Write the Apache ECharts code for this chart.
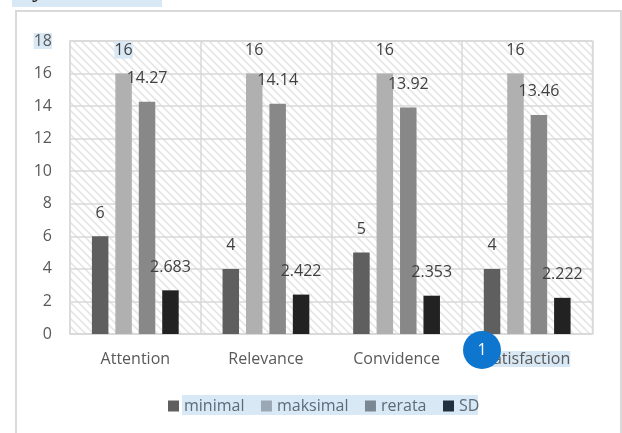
<!DOCTYPE html>
<html>
<head>
<meta charset="utf-8">
<style>
  html, body { margin: 0; padding: 0; background: #fff; }
  #chart { width: 622px; height: 433px; }
</style>
<script src="https://cdn.jsdelivr.net/npm/echarts@6/dist/echarts.min.js"></script>
</head>
<body>
<div id="chart"></div>
<script>
var categories = ["Attention", "Relevance", "Convidence", "Satisfaction"];
var minimal = [6, 4, 5, 4];
var maksimal = [16, 16, 16, 16];
var rerata = [14.27, 14.14, 13.92, 13.46];
var sd = [2.683, 2.422, 2.353, 2.222];

var FONT = "Open Sans";
var TEXT = "#595959";
var LABEL = "#404040";
var HILITE = "#d9e8f5";
var LINE = "#d9d9d9";

// diagonal hatch tile for the plot background
function hatchTile() {
  var size = 8;
  var c = document.createElement("canvas");
  c.width = size;
  c.height = size;
  var ctx = c.getContext("2d");
  ctx.fillStyle = "#ffffff";
  ctx.fillRect(0, 0, size, size);
  ctx.strokeStyle = "#e6e6e6";
  ctx.lineWidth = 1.6;
  ctx.beginPath();
  ctx.moveTo(-2, -2);
  ctx.lineTo(size + 2, size + 2);
  ctx.moveTo(-2, size - 2);
  ctx.lineTo(2, size + 2);
  ctx.moveTo(size - 2, -2);
  ctx.lineTo(size + 2, 2);
  ctx.stroke();
  return c;
}

function barSeries(name, values, color) {
  return {
    name: name,
    type: "bar",
    data: values,
    barWidth: 16.5,
    barGap: "42%",
    itemStyle: { color: color },
    label: {
      show: true,
      position: "top",
      distance: 15,
      color: LABEL,
      fontFamily: FONT,
      fontSize: 16,
    },
  };
}

var series = [
  barSeries("minimal", minimal, "#5f5f5f"),
  barSeries("maksimal", maksimal, "#b0b0b0"),
  barSeries("rerata", rerata, "#888888"),
  barSeries("SD", sd, "#222222"),
];

// the first "16" is selected in the source picture
series[1].data = maksimal.map(function (v, i) {
  if (i != 0) return v;
  return { value: v, label: { backgroundColor: HILITE, padding: [1, 0, 0, 0] } };
});

var myChart = echarts.init(document.getElementById("chart"), null, { renderer: "canvas" });
myChart.setOption({
  animation: false,
  backgroundColor: "#ffffff",
  grid: {
    left: 70,
    right: 29.5,
    top: 41,
    bottom: 99,
    show: true,
    backgroundColor: { image: hatchTile(), repeat: "repeat" },
    borderColor: LINE,
    borderWidth: 1.5,
  },
  legend: {
    left: 163,
    top: 393,
    itemWidth: 11,
    itemHeight: 11,
    itemGap: 16.5,
    z: 4,
    textStyle: { fontFamily: FONT, fontSize: 16, color: "#5b6b7a" },
    data: [
      { name: "minimal", icon: "rect", itemStyle: { color: "#5f5f5f" } },
      { name: "maksimal", icon: "rect", itemStyle: { color: "#9aa8b5" } },
      { name: "rerata", icon: "rect", itemStyle: { color: "#7b8894" } },
      { name: "SD", icon: "rect", itemStyle: { color: "#1f3040" } },
    ],
  },
  xAxis: {
    type: "category",
    data: categories,
    axisTick: { show: false },
    axisLine: { lineStyle: { color: LINE, width: 1.5 } },
    splitLine: { show: true, interval: 0, lineStyle: { color: LINE, width: 1.5 } },
    axisLabel: {
      interval: 0,
      margin: 17,
      color: TEXT,
      fontFamily: FONT,
      fontSize: 16,
      formatter: function (value) {
        return value == "Satisfaction" ? "{hl|" + value + "}" : value;
      },
      rich: {
        hl: {
          backgroundColor: HILITE,
          color: TEXT,
          fontFamily: FONT,
          fontSize: 16,
          padding: [0, 0, 0, 0],
        },
      },
    },
  },
  yAxis: {
    type: "value",
    min: 0,
    max: 18,
    interval: 2,
    axisLine: { show: false },
    axisTick: { show: false },
    splitLine: { lineStyle: { color: LINE, width: 1.5 } },
    axisLabel: {
      margin: 18,
      color: TEXT,
      fontFamily: FONT,
      fontSize: 16,
      formatter: function (value) {
        return value == 18 ? "{hl|" + value + "}" : String(value);
      },
      rich: {
        hl: {
          backgroundColor: HILITE,
          color: TEXT,
          fontFamily: FONT,
          fontSize: 16,
          padding: [0, 0, 0, 0],
        },
      },
    },
  },
  graphic: [
    // frame of the pasted chart, runs off the bottom of the picture
    {
      type: "rect",
      z: 0,
      shape: { x: 16, y: 11, width: 605, height: 440 },
      style: { fill: "none", stroke: "#d9d9d9", lineWidth: 2 },
    },
    // clipped heading above the frame
    {
      type: "rect",
      z: 1,
      shape: { x: 12, y: 0, width: 150, height: 7 },
      style: { fill: HILITE },
    },
    {
      type: "text",
      z: 2,
      left: 14,
      top: -22,
      style: { text: "Nyata 2022", fill: "#1a1a1a", font: "25px 'Liberation Serif'" },
    },
    // selection band behind the legend
    {
      type: "rect",
      z: 1,
      shape: { x: 182, y: 395, width: 296, height: 20 },
      style: { fill: HILITE },
    },
    // comment badge
    {
      type: "circle",
      z: 10,
      shape: { cx: 482, cy: 350, r: 19 },
      style: { fill: "#0e76ce" },
    },
    {
      type: "text",
      z: 11,
      x: 482,
      y: 350,
      style: {
        text: "1",
        fill: "#ffffff",
        font: "16px 'Open Sans'",
        align: "center",
        verticalAlign: "middle",
      },
    },
  ],
  series: series,
});
</script>
</body>
</html>
